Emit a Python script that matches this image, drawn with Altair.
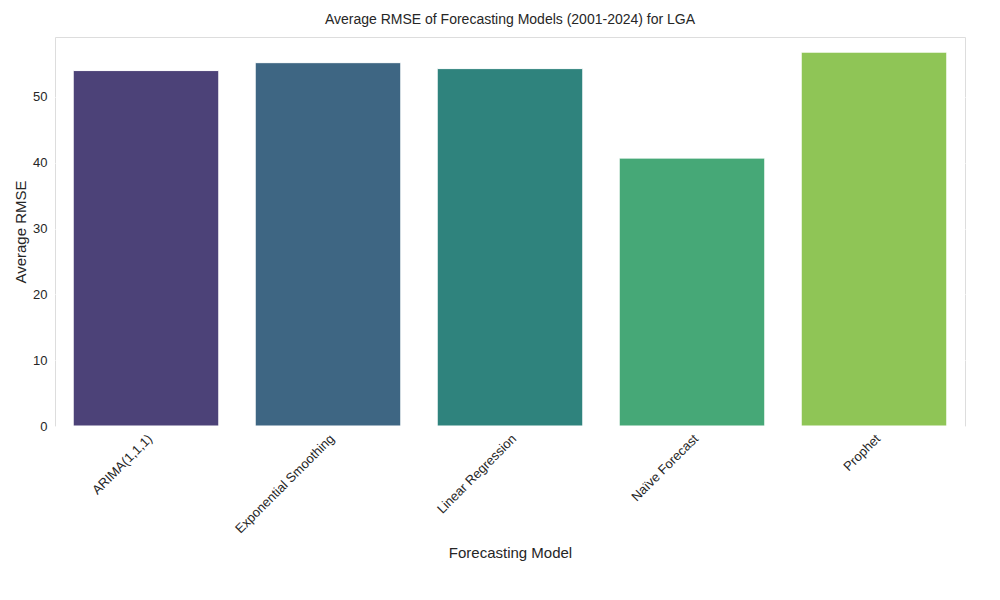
import altair as alt
import pandas as pd

models = ["ARIMA(1,1,1)", "Exponential Smoothing", "Linear Regression", "Naïve Forecast", "Prophet"]
rmse = [54.0, 55.2, 54.3, 40.7, 56.8]
colors = ["#4c4278", "#3e6683", "#2f837d", "#46a877", "#8fc556"]

df = pd.DataFrame({"model": models, "rmse": rmse})

chart = alt.Chart(df).mark_bar(stroke="white", strokeWidth=1).encode(
    x=alt.X("model:N", sort=models, title="Forecasting Model",
            scale=alt.Scale(paddingInner=0.2, paddingOuter=0.1),
            axis=alt.Axis(labelAngle=-45, labelAlign="right", labelBaseline="top",
                          labelFontSize=13, titleFontSize=15, titleFontWeight="normal",
                          ticks=False, domain=False, grid=False, labelPadding=6, titlePadding=10)),
    y=alt.Y("rmse:Q", title="Average RMSE",
            scale=alt.Scale(domain=[0, 59.1], nice=False),
            axis=alt.Axis(values=[0, 10, 20, 30, 40, 50], labelFontSize=13, titleFontSize=15,
                          titleFontWeight="normal", ticks=False, domain=False,
                          gridColor="white", gridWidth=1.2, labelPadding=8)),
    color=alt.Color("model:N", sort=models, scale=alt.Scale(domain=models, range=colors), legend=None),
).properties(
    width=910, height=389,
    title=alt.TitleParams("Average RMSE of Forecasting Models (2001-2024) for LGA",
                          fontSize=14, fontWeight="normal", offset=10),
).configure_view(fill="#eaeaf2", stroke=None).configure(
    font="Liberation Sans"
).configure_axis(labelColor="#262626", titleColor="#262626").configure_title(color="#262626")

chart.save("out.html", embed_options={"renderer": "svg", "actions": False})
